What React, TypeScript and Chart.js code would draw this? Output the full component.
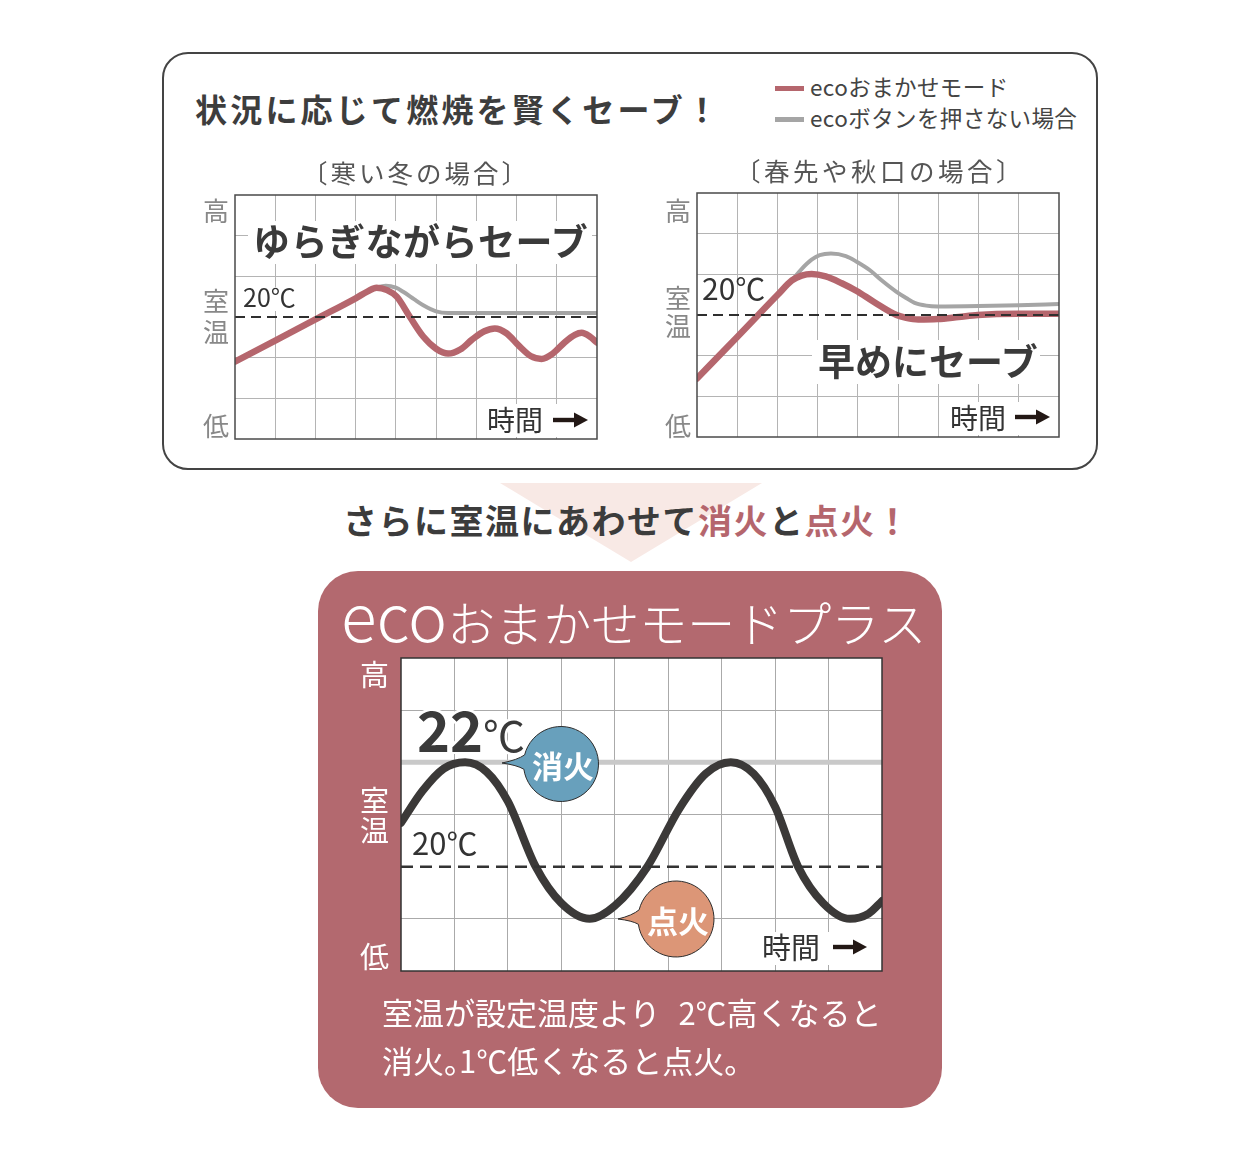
import React, { useEffect, useRef } from "react";
import { Chart, registerables } from "chart.js";

Chart.register(...registerables);

const FONT = '"Noto Sans CJK JP", "Noto Sans", sans-serif';
const RED = "#b5666d";
const GRAY = "#a5a5a5";
const DARK = "#3c3c3c";
const ROSE = "#b3696f";

// ---------- DATA ----------
// 寒い冬の場合 : x = 時間 (grid columns 0-9), y = 室温 (grid rows 0-6, 20℃ = row 3)
const winterTime = [0, 1, 2, 3.0, 3.3, 3.52, 3.78, 4.02, 4.35, 4.68, 5.0, 5.3, 5.6, 5.9, 6.2, 6.46, 6.75, 7.05, 7.35, 7.62, 7.9, 8.2, 8.45, 8.62, 8.82, 9];
const winterEco = [1.9, 2.42, 2.94, 3.46, 3.63, 3.72, 3.66, 3.5, 3.0, 2.52, 2.22, 2.1, 2.2, 2.45, 2.65, 2.72, 2.6, 2.3, 2.04, 1.97, 2.1, 2.38, 2.56, 2.61, 2.52, 2.37];
const winterNoEcoTime = [3.0, 3.3, 3.52, 3.75, 4.0, 4.18, 4.45, 4.68, 5.0, 5.3, 9];
const winterNoEco = [3.46, 3.63, 3.72, 3.77, 3.72, 3.62, 3.44, 3.29, 3.14, 3.1, 3.1];

// 春先や秋口の場合
const springTime = [0, 1, 2, 2.36, 2.6, 2.85, 3.2, 3.6, 3.97, 4.4, 4.96, 5.2, 5.5, 5.98, 6.5, 6.98, 7.97, 9];
const springEco = [1.44, 2.46, 3.49, 3.85, 3.97, 4.01, 3.95, 3.78, 3.59, 3.32, 3.0, 2.93, 2.89, 2.9, 2.95, 3.0, 3.03, 3.03];
const springNoEcoTime = [2.0, 2.36, 2.6, 2.85, 3.05, 3.33, 3.7, 3.97, 4.3, 4.58, 4.96, 5.2, 5.41, 5.7, 5.98, 7, 8, 9];
const springNoEco = [3.49, 3.85, 4.13, 4.36, 4.47, 4.51, 4.45, 4.31, 4.1, 3.86, 3.57, 3.42, 3.3, 3.23, 3.21, 3.22, 3.24, 3.27];

const rowSet = 3; // 20℃ row in small charts

// ecoおまかせモードプラス : y = 室温 (℃)
const plusTime = [0, 0.4, 0.8, 1.2, 1.6, 2.0, 2.52, 3.0, 3.53, 4.0, 4.61, 5.2, 5.7, 6.17, 6.6, 7.0, 7.43, 7.9, 8.4, 8.75, 9];
const plusTemp = [20.84, 21.45, 21.88, 22.0, 21.82, 21.25, 20.0, 19.3, 19.0, 19.25, 20.0, 21.1, 21.78, 22.0, 21.78, 21.15, 20.0, 19.3, 19.0, 19.1, 19.34];
const setTempC = 20;
const offTempC = 22;
const tempMin = 18;
const tempMax = 24;
const timeMax = 9;

// ---------- helpers ----------
const line = (xs: number[], ys: number[], color: string, width: number, order: number, extra: any = {}) => ({
  data: xs.map((x, i) => ({ x, y: ys[i] })),
  borderColor: color,
  borderWidth: width,
  pointRadius: 0,
  fill: false,
  cubicInterpolationMode: "monotone",
  borderCapStyle: "round",
  borderJoinStyle: "round",
  order,
  clip: 0,
  ...extra,
});

const refLine = (y: number, color: string, width: number, order: number, dash: number[] | null) =>
  line([0, timeMax], [y, y], color, width, order, {
    borderDash: dash || [],
    cubicInterpolationMode: "default",
    tension: 0,
    borderCapStyle: "butt",
  });

const PAD = 6;

function Plot(p: any) {
  const ref = useRef<HTMLCanvasElement>(null);
  useEffect(() => {
    const framePlugin = {
      id: "frame",
      beforeDraw(chart: any) {
        const { ctx, chartArea: a } = chart;
        ctx.save();
        ctx.fillStyle = "#ffffff";
        ctx.fillRect(a.left, a.top, a.right - a.left, a.bottom - a.top);
        ctx.restore();
      },
      afterDraw(chart: any) {
        const { ctx, chartArea: a } = chart;
        ctx.save();
        ctx.strokeStyle = p.frameColor;
        ctx.lineWidth = p.frameWidth;
        ctx.strokeRect(a.left, a.top, a.right - a.left, a.bottom - a.top);
        ctx.restore();
      },
    };
    const chart = new Chart(ref.current as HTMLCanvasElement, {
      type: "line",
      data: { datasets: p.datasets },
      options: {
        animation: false,
        responsive: false,
        maintainAspectRatio: false,
        devicePixelRatio: 1,
        layout: { padding: PAD },
        plugins: { legend: { display: false }, tooltip: { enabled: false } },
        scales: {
          x: {
            type: "linear",
            min: 0,
            max: timeMax,
            ticks: { display: false, stepSize: 1 },
            grid: {
              drawTicks: false,
              lineWidth: 1,
              color: (c: any) => (c.tick && (c.tick.value <= 0 || c.tick.value >= timeMax) ? "rgba(0,0,0,0)" : p.gridColor),
            },
            border: { display: false },
            afterFit: (s: any) => {
              s.height = 0;
            },
          },
          y: {
            type: "linear",
            min: p.yMin,
            max: p.yMax,
            ticks: { display: false, stepSize: 1 },
            grid: {
              drawTicks: false,
              lineWidth: 1,
              color: (c: any) =>
                c.tick && (c.tick.value <= p.yMin || c.tick.value >= p.yMax || p.hideY.includes(c.tick.value))
                  ? "rgba(0,0,0,0)"
                  : p.gridColor,
            },
            border: { display: false },
            afterFit: (s: any) => {
              s.width = 0;
            },
          },
        },
      } as any,
      plugins: [framePlugin],
    });
    return () => chart.destroy();
  }, []);
  return (
    <canvas
      ref={ref}
      width={p.width + PAD * 2}
      height={p.height + PAD * 2}
      style={{ position: "absolute", left: p.left - PAD, top: p.top - PAD }}
    />
  );
}

function T(props: any) {
  const { x, y, size, color = DARK, weight = 400, center = false, ls = 0, children, style = {} } = props;
  return (
    <div
      style={{
        position: "absolute",
        left: x,
        top: y - 0.55 * size,
        fontSize: size,
        lineHeight: 1,
        fontWeight: weight,
        color,
        letterSpacing: ls,
        whiteSpace: "nowrap",
        transform: center ? "translateX(-50%)" : undefined,
        fontFamily: FONT,
        ...style,
      }}
    >
      {children}
    </div>
  );
}

function Box(props: any) {
  const { l, t, r, b, bg = "#fff" } = props;
  return <div style={{ position: "absolute", left: l, top: t, width: r - l, height: b - t, background: bg }} />;
}

function Arrow({ x0, x1, y }: any) {
  return (
    <g>
      <rect x={x0} y={y - 2.2} width={x1 - x0 - 10} height={4.4} fill="#231815" />
      <polygon points={`${x1 - 14},${y - 7.5} ${x1},${y} ${x1 - 14},${y + 7.5}`} fill="#231815" />
    </g>
  );
}

function bubblePath(cx: number, cy: number, r: number, tx: number, ty: number) {
  const a1 = (194 * Math.PI) / 180;
  const a2 = (172 * Math.PI) / 180;
  const p1x = cx + r * Math.cos(a1);
  const p1y = cy + r * Math.sin(a1);
  const p2x = cx + r * Math.cos(a2);
  const p2y = cy + r * Math.sin(a2);
  return `M ${tx} ${ty} Q ${(tx + p1x) / 2 + 4} ${(ty + p1y) / 2 + 1} ${p1x} ${p1y} A ${r} ${r} 0 1 1 ${p2x} ${p2y} Q ${(tx + p2x) / 2 + 4} ${(ty + p2y) / 2 - 1} ${tx} ${ty} Z`;
}

export default function App() {
  const winterSets = [
    refLine(rowSet, "#2f2f2f", 2, 0, [10, 6]),
    line(winterTime, winterEco, RED, 6.5, 1),
    line(winterNoEcoTime, winterNoEco, GRAY, 4, 2),
  ];
  const springSets = [
    refLine(rowSet, "#2f2f2f", 2, 0, [10, 6]),
    line(springTime, springEco, RED, 6.5, 1),
    line(springNoEcoTime, springNoEco, GRAY, 4, 2),
  ];
  const plusSets = [
    refLine(setTempC, "#333333", 2.5, 0, [12, 7]),
    line(plusTime, plusTemp, "#3b3938", 8, 1),
    refLine(offTempC, "#c9c9c9", 5, 2, null),
  ];

  return (
    <div style={{ position: "absolute", left: 0, top: 0, width: 1253, height: 1152, background: "#fff", fontFamily: FONT, overflow: "hidden" }}>
      {/* top frame */}
      <div
        style={{
          position: "absolute",
          left: 162,
          top: 52,
          width: 936,
          height: 418,
          border: "2px solid #444",
          borderRadius: 26,
          boxSizing: "border-box",
        }}
      />
      {/* pink arrow triangle */}
      <svg width={1253} height={1152} style={{ position: "absolute", left: 0, top: 0 }}>
        <polygon points="500,483 762,483 631,562" fill="#f8e9e5" />
      </svg>
      {/* bottom rose panel */}
      <div style={{ position: "absolute", left: 318, top: 571, width: 624, height: 537, background: ROSE, borderRadius: 40 }} />

      {/* charts */}
      <Plot left={235} top={195} width={362} height={244} yMin={0} yMax={6} hideY={[rowSet]} gridColor="#b4b4b4" frameColor="#4a4a4a" frameWidth={1.5} datasets={winterSets} />
      <Plot left={697} top={193} width={362} height={244} yMin={0} yMax={6} hideY={[rowSet]} gridColor="#b4b4b4" frameColor="#4a4a4a" frameWidth={1.5} datasets={springSets} />
      <Plot left={401} top={658} width={481} height={313} yMin={tempMin} yMax={tempMax} hideY={[setTempC, offTempC]} gridColor="#aaaaaa" frameColor="#333333" frameWidth={1.5} datasets={plusSets} />

      {/* heading + legend */}
      <T x={195} y={110} size={32} weight={700} ls={3.2} color="#3d3d3d">状況に応じて燃焼を賢くセーブ！</T>
      <div style={{ position: "absolute", left: 775, top: 86, width: 29, height: 5, background: RED }} />
      <div style={{ position: "absolute", left: 775, top: 117, width: 29, height: 5, background: GRAY }} />
      <T x={810} y={87} size={22.5} ls={0.4} color="#444">ecoおまかせモード</T>
      <T x={810} y={118} size={22.5} ls={0.4} color="#444">ecoボタンを押さない場合</T>

      {/* chart 1 texts */}
      <T x={416} y={173} size={25.5} ls={3} color="#555" center>〔寒い冬の場合〕</T>
      <T x={203} y={211} size={26} color="#888">高</T>
      <T x={203} y={301} size={26} color="#888">室</T>
      <T x={203} y={332} size={26} color="#888">温</T>
      <T x={203} y={426} size={26} color="#888">低</T>
      <Box l={248} t={221} r={592} b={264} />
      <T x={253} y={242} size={37} weight={700} ls={0.5} color="#3a3a3a">ゆらぎながらセーブ</T>
      <Box l={241} t={287} r={298} b={311} />
      <T x={243} y={298} size={25} color="#333">20℃</T>
      <Box l={482} t={404} r={594} b={437} />
      <T x={487} y={420} size={28} color="#333">時間</T>

      {/* chart 2 texts */}
      <T x={880} y={171} size={25.5} ls={3.5} color="#555" center>〔春先や秋口の場合〕</T>
      <T x={665} y={211} size={26} color="#888">高</T>
      <T x={665} y={298} size={26} color="#888">室</T>
      <T x={665} y={326} size={26} color="#888">温</T>
      <T x={665} y={426} size={26} color="#888">低</T>
      <Box l={812} t={340} r={1040} b={384} />
      <T x={818} y={362} size={37} weight={700} color="#3a3a3a">早めにセーブ</T>
      <Box l={945} t={402} r={1056} b={435} />
      <T x={950} y={418} size={28} color="#333">時間</T>
      <T x={702} y={288} size={30} color="#333">20℃</T>

      {/* middle message */}
      <T x={627} y={522} size={34} weight={700} ls={1.5} center color="#3c3c3c">
        さらに室温にあわせて<span style={{ color: RED }}>消火</span>と<span style={{ color: RED }}>点火！</span>
      </T>

      {/* bottom panel title */}
      <div style={{ position: "absolute", left: 341, top: 580, display: "flex", alignItems: "baseline", color: "#fff", fontFamily: FONT, fontWeight: 300, whiteSpace: "nowrap" }}>
        <span style={{ fontSize: 66, lineHeight: 1 }}>eco</span>
        <span style={{ fontSize: 48, lineHeight: 1 }}>おまかせモードプラス</span>
      </div>

      {/* chart 3 texts */}
      <T x={360} y={675} size={29} color="#fff">高</T>
      <T x={360} y={801} size={29} color="#fff">室</T>
      <T x={360} y={831} size={29} color="#fff">温</T>
      <T x={360} y={957} size={29} color="#fff">低</T>
      <div
        style={{
          position: "absolute",
          left: 417,
          top: 700,
          display: "flex",
          alignItems: "baseline",
          color: "#3a3a3a",
          fontFamily: FONT,
          whiteSpace: "nowrap",
          textShadow: "2px 0 0 #fff, -2px 0 0 #fff, 0 2px 0 #fff, 0 -2px 0 #fff, 2px 2px 0 #fff, -2px -2px 0 #fff, 2px -2px 0 #fff, -2px 2px 0 #fff",
        }}
      >
        <span style={{ fontSize: 56, lineHeight: 1, fontWeight: 700 }}>22</span>
        <span style={{ fontSize: 42, lineHeight: 1, fontWeight: 400 }}>℃</span>
      </div>
      <T x={412} y={843} size={31} color="#333">20℃</T>
      <Box l={758} t={932} r={872} b={965} />
      <T x={762} y={948} size={29} color="#333">時間</T>

      {/* bubbles & arrows */}
      <svg width={1253} height={1152} style={{ position: "absolute", left: 0, top: 0 }}>
        <Arrow x0={553} x1={588} y={420} />
        <Arrow x0={1015} x1={1050} y={417} />
        <Arrow x0={833} x1={867} y={947} />
        <path d={bubblePath(561, 764, 37.5, 502, 763)} fill="#68a0bc" stroke="#2c2c2c" strokeWidth={1} />
        <path d={bubblePath(676, 919, 38, 618, 919)} fill="#dc9677" stroke="#2c2c2c" strokeWidth={1} />
      </svg>
      <T x={563} y={766} size={31} weight={700} color="#fff" center>消火</T>
      <T x={678} y={921} size={31} weight={700} color="#fff" center>点火</T>

      {/* bottom explanation */}
      <T x={382} y={1013} size={31} color="#fff">
        室温が設定温度より<span style={{ marginLeft: 18 }}>2℃高くなると</span>
      </T>
      <T x={382} y={1061} size={31} color="#fff">
        消火<span style={{ display: "inline-block", width: 15 }}>。</span>1℃低くなると点火。
      </T>
    </div>
  );
}
